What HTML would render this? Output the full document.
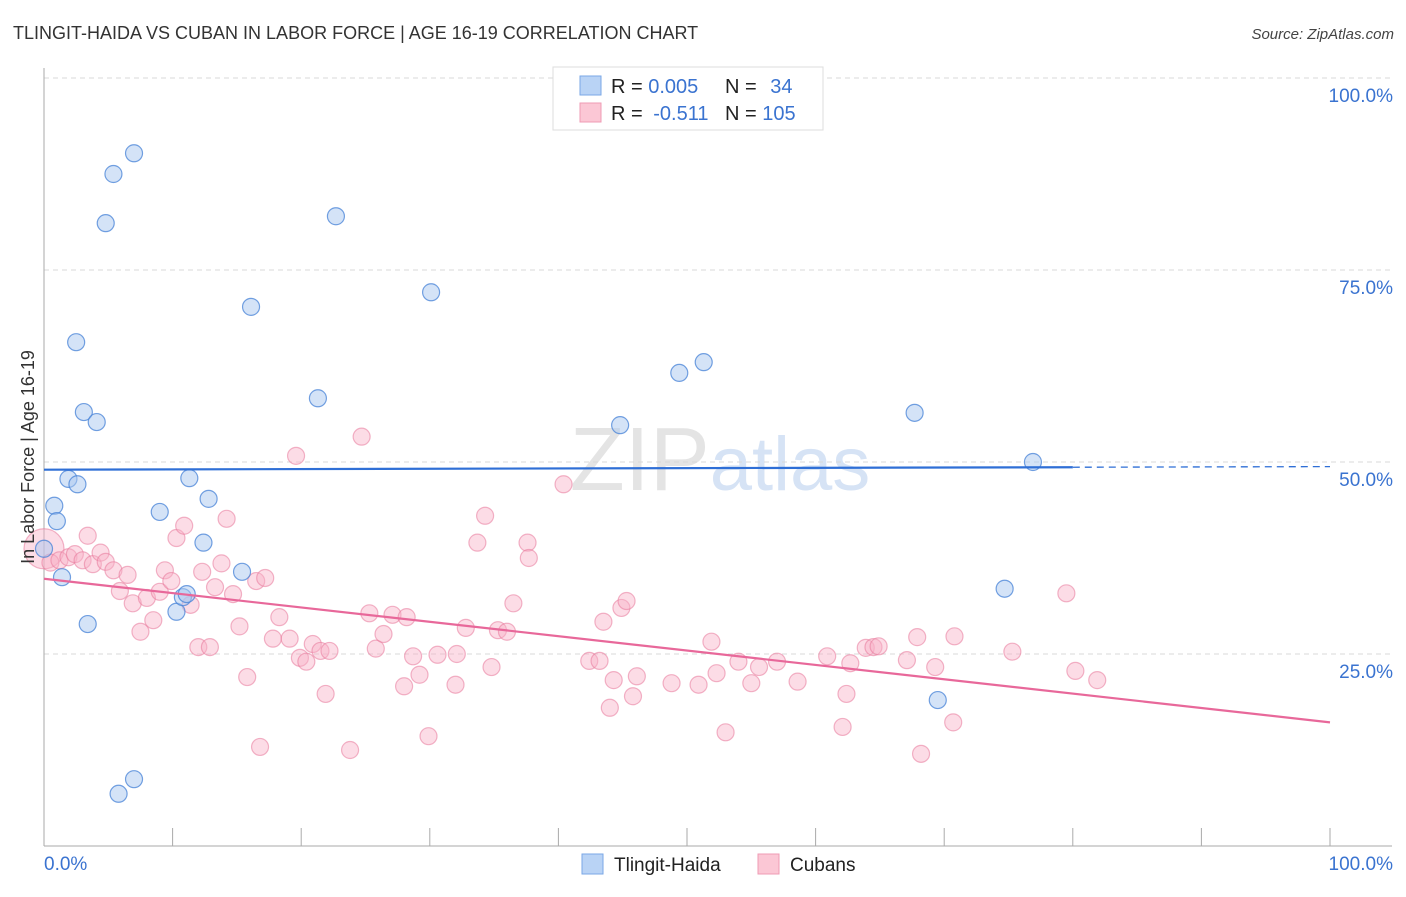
<!DOCTYPE html>
<html><head><meta charset="utf-8">
<style>
body{margin:0;background:#fff;font-family:"Liberation Sans",sans-serif;}
svg text{font-family:"Liberation Sans",sans-serif;}
</style></head>
<body>
<svg id="chart" width="1406" height="892" xmlns="http://www.w3.org/2000/svg">
<text x="13" y="39" font-size="18" fill="#333">TLINGIT-HAIDA VS CUBAN IN LABOR FORCE | AGE 16-19 CORRELATION CHART</text>
<text x="1394" y="39" font-size="15" fill="#444" text-anchor="end" font-style="italic">Source: ZipAtlas.com</text>
<text x="720" y="490" font-size="90" fill="#e4e4e4" text-anchor="middle" font-family="Liberation Serif">ZIP<tspan fill="#d6e3f5" font-family="Liberation Sans" font-size="76">atlas</tspan></text>
<g id="grid"></g>
<g id="axes"></g>
<g id="marks"></g>
<text transform="translate(34,457) rotate(-90)" font-size="18" fill="#333" text-anchor="middle">In Labor Force | Age 16-19</text>
<g>
<rect x="553" y="67" width="270" height="63" fill="#fff" stroke="#ddd"/>
<rect x="580" y="76" width="21" height="19" fill="#b9d3f5" stroke="#7aa7e6"/>
<rect x="580" y="103" width="21" height="19" fill="#fbc7d5" stroke="#ef9bb4"/>
<text x="611" y="93" font-size="20" fill="#222">R = <tspan fill="#3a73d0">0.005</tspan></text>
<text x="725" y="93" font-size="20" fill="#222">N = <tspan fill="#3a73d0" dx="8">34</tspan></text>
<text x="611" y="120" font-size="20" fill="#222">R = <tspan fill="#3a73d0" dx="5">-0.511</tspan></text>
<text x="725" y="120" font-size="20" fill="#222">N = <tspan fill="#3a73d0">105</tspan></text>
</g>
<g>
<rect x="582" y="854" width="21" height="20" fill="#b9d3f5" stroke="#7aa7e6"/>
<text x="614" y="871" font-size="19" fill="#222">Tlingit-Haida</text>
<rect x="758" y="854" width="21" height="20" fill="#fbc7d5" stroke="#ef9bb4"/>
<text x="790" y="871" font-size="19" fill="#222">Cubans</text>
</g>
</svg>
<script>
const yTicks=[100,75,50,25];
const yTickLabels=["100.0%","75.0%","50.0%","25.0%"];
const xTicks=[0,10,20,30,40,50,60,70,80,90,100];
const blueX=[0,0.8,1.0,1.4,1.9,2.6,2.5,3.1,4.1,3.4,4.8,5.4,7.0,5.8,7.0,9.0,10.3,10.8,11.1,11.3,12.4,12.8,15.4,16.1,21.3,22.7,30.1,44.8,49.4,51.3,67.7,74.7,69.5,76.9];
const blueY=[38.7,44.3,42.3,35.0,47.8,47.1,65.6,56.5,55.2,28.9,81.1,87.5,90.2,6.8,8.7,43.5,30.5,32.4,32.8,47.9,39.5,45.2,35.7,70.2,58.3,82.0,72.1,54.8,61.6,63.0,56.4,33.5,19.0,50.0];
const pinkX=[0,0.5,1.2,1.9,2.4,3.0,3.4,3.8,4.4,4.8,5.4,5.9,6.5,6.9,7.5,8.0,8.5,9.0,9.4,9.9,10.3,10.9,11.4,12.0,12.3,12.9,13.3,13.8,14.2,14.7,15.2,15.8,16.5,16.8,17.2,17.8,18.3,19.1,19.6,19.9,20.4,20.9,21.5,21.9,22.2,23.8,24.7,25.3,25.8,26.4,27.1,28.0,28.2,28.7,29.2,29.9,30.6,32.0,32.1,32.8,33.7,34.3,34.8,35.3,36.0,36.5,37.6,37.7,40.4,42.4,43.2,43.5,44.0,44.3,44.9,45.3,45.8,46.1,48.8,50.9,51.9,52.3,53.0,54.0,55.0,55.6,57.0,58.6,60.9,62.1,62.4,62.7,63.9,64.5,64.9,67.1,67.9,68.2,69.3,70.7,70.8,75.3,79.5,80.2,81.9];
const pinkY=[38.7,36.9,37.2,37.6,38.0,37.2,40.4,36.7,38.2,37.0,35.9,33.2,35.3,31.6,27.9,32.3,29.4,33.1,35.9,34.5,40.1,41.7,31.4,25.9,35.7,25.9,33.7,36.8,42.6,32.8,28.6,22.0,34.5,12.9,34.9,27.0,29.8,27.0,50.8,24.5,24.0,26.3,25.4,19.8,25.4,12.5,53.3,30.3,25.7,27.6,30.1,20.8,29.8,24.7,22.3,14.3,24.9,21.0,25.0,28.4,39.5,43.0,23.3,28.1,27.9,31.6,39.5,37.5,47.1,24.1,24.1,29.2,18.0,21.6,31.0,31.9,19.5,22.1,21.2,21.0,26.6,22.5,14.8,24.0,21.2,23.3,24.0,21.4,24.7,15.5,19.8,23.8,25.8,25.9,26.0,24.2,27.2,12.0,23.3,16.1,27.3,25.3,32.9,22.8,21.6];
const blueTrend=[49.0,49.4];
const pinkTrend=[34.8,16.1];

const NS="http://www.w3.org/2000/svg";
const X=v=>44+v*12.86, Y=v=>846-v*7.68;
function mk(tag,attrs,parent){const e=document.createElementNS(NS,tag);for(const k in attrs)e.setAttribute(k,attrs[k]);document.getElementById(parent).appendChild(e);return e;}
yTicks.forEach((t,i)=>{
  const g=mk('line',{x1:44,x2:1392,y1:Y(t),y2:Y(t),stroke:'#d8d8d8','stroke-dasharray':'5,4'},'grid');
  
  
  const l=mk('text',{x:1393,y:Y(t)+24,'font-size':19,fill:'#3a73d0','text-anchor':'end'},'axes');
  l.textContent=yTickLabels[i];
  
  
});
const ya=mk('line',{x1:44,x2:44,y1:68,y2:846,stroke:'#aaa'},'axes');


const xa=mk('line',{x1:44,x2:1392,y1:846,y2:846,stroke:'#aaa'},'axes');


xTicks.forEach(t=>{
  const k=mk('line',{x1:X(t),x2:X(t),y1:828,y2:846,stroke:'#aaa'},'axes');
  
  
});
const xl0=mk('text',{x:44,y:870,'font-size':19,fill:'#3a73d0'},'axes');xl0.textContent='0.0%';


const xl1=mk('text',{x:1393,y:870,'font-size':19,fill:'#3a73d0','text-anchor':'end'},'axes');xl1.textContent='100.0%';



pinkX.forEach((x,i)=>{
  const c=mk('circle',{cx:X(x),cy:Y(pinkY[i]),r:i===0?20:8.5,fill:'rgba(248,178,200,0.45)',stroke:'rgba(232,120,155,0.55)','stroke-width':1.2},'marks');
  
  
});
blueX.forEach((x,i)=>{
  const c=mk('circle',{cx:X(x),cy:Y(blueY[i]),r:8.5,fill:'rgba(170,200,240,0.5)',stroke:'rgba(70,130,215,0.75)','stroke-width':1.2},'marks');
  
  
});
const bt=(v)=>blueTrend[0]+(blueTrend[1]-blueTrend[0])*v/100;
const b1=mk('line',{x1:X(0),y1:Y(bt(0)),x2:X(80),y2:Y(bt(80)),stroke:'#2f6fd6','stroke-width':2.2},'marks');


const b2=mk('line',{x1:X(80),y1:Y(bt(80)),x2:X(100),y2:Y(bt(100)),stroke:'#2f6fd6','stroke-width':1.3,'stroke-dasharray':'7,5'},'marks');


const p1=mk('line',{x1:X(0),y1:Y(pinkTrend[0]),x2:X(100),y2:Y(pinkTrend[1]),stroke:'#e8689a','stroke-width':2.2},'marks');


</script>
</body></html>
